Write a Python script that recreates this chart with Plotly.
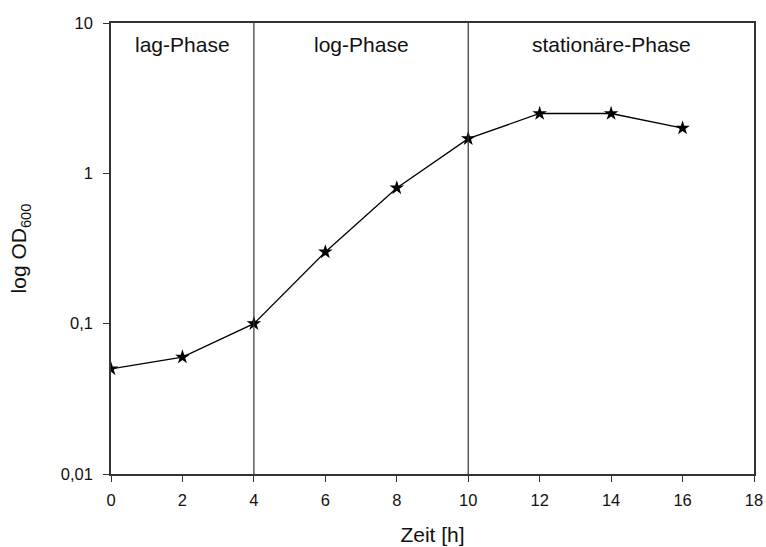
import plotly.graph_objects as go

zeit = [0, 2, 4, 6, 8, 10, 12, 14, 16]
od600 = [0.05, 0.06, 0.1, 0.3, 0.8, 1.7, 2.5, 2.5, 2.0]
phase_lines = [4, 10]
phase_labels = ["lag-Phase", "log-Phase", "stationäre-Phase"]
phase_label_x = [2, 7, 14]
y_tickvals = [0.01, 0.1, 1, 10]
y_ticktext = ["0,01", "0,1", "1", "10"]
x_tickvals = [0, 2, 4, 6, 8, 10, 12, 14, 16, 18]

fam = "Liberation Sans, Arial, sans-serif"
ink = "#111"

fig = go.Figure()
fig.add_trace(go.Scatter(
    x=zeit, y=od600, mode="lines+markers",
    line=dict(color="black", width=1.3),
    marker=dict(symbol="star", size=11, color="black"),
    showlegend=False,
))

for xv in phase_lines:
    fig.add_shape(type="line", xref="x", yref="paper", x0=xv, x1=xv, y0=0, y1=1,
                  line=dict(color="#333", width=1.2))

for lbl, xv in zip(phase_labels, phase_label_x):
    fig.add_annotation(x=xv, y=0.953, xref="x", yref="paper", text=lbl,
                       showarrow=False, font=dict(family=fam, size=21, color=ink),
                       xanchor="center", yanchor="middle")

fig.update_layout(
    width=766, height=547,
    margin=dict(l=111, r=12, t=23, b=73, autoexpand=False),
    paper_bgcolor="white", plot_bgcolor="white",
    font=dict(family=fam, size=16.5, color=ink),
    xaxis=dict(range=[0, 18], tickvals=x_tickvals, ticks="outside", ticklen=6,
               tickcolor="#333", linecolor="#333", linewidth=1.5, mirror=True,
               showgrid=False, zeroline=False, automargin=False, ticklabelstandoff=4,
               tickfont=dict(family=fam, size=16.5, color=ink),
               title=dict(text="Zeit [h]", font=dict(family=fam, size=21, color=ink), standoff=20)),
    yaxis=dict(type="log", range=[-2, 1], tickvals=y_tickvals, ticktext=y_ticktext,
               ticks="outside", ticklen=6, tickcolor="#333", linecolor="#333",
               linewidth=1.5, mirror=True, showgrid=False, zeroline=False, automargin=False,
               ticklabelstandoff=7,
               tickfont=dict(family=fam, size=16.5, color=ink),
               title=dict(text="log OD<sub>600</sub>", font=dict(family=fam, size=21, color=ink), standoff=28)),
)

fig.write_html("out.html")
